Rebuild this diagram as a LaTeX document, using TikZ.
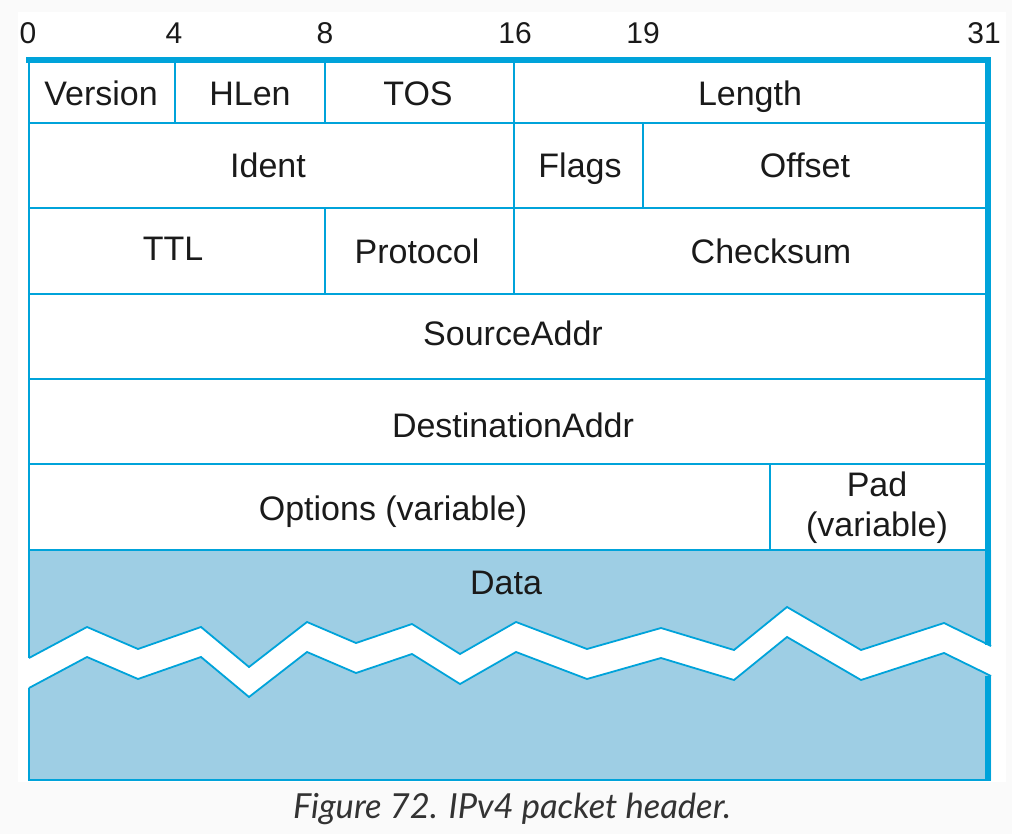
\documentclass[tikz,border=0pt]{standalone}
\usepackage{fontspec}
\setmainfont{Liberation Sans}
\newfontfamily\capfont{Lato}
\definecolor{ln}{RGB}{0,163,218}
\definecolor{datafill}{RGB}{158,206,228}
\definecolor{txt}{RGB}{26,26,26}
\definecolor{pagebg}{RGB}{250,250,250}
\definecolor{captxt}{RGB}{51,51,51}
\begin{document}
\begin{tikzpicture}[x=1pt,y=-1pt,
  grid/.style={draw=ln,line width=1.8pt},
  thick border/.style={draw=ln,line width=6pt},
  field/.style={text=txt,font=\fontsize{34}{40}\selectfont,inner sep=0pt,align=center,text height=24.5pt,text depth=0pt},
  twoline/.style={text=txt,font=\fontsize{34}{40}\selectfont,inner sep=0pt,align=center},
  bitno/.style={text=txt,font=\fontsize{30}{34}\selectfont,inner sep=0pt,text height=21.5pt,text depth=0pt},
  captionstyle/.style={text=captxt,font=\capfont\itshape\fontsize{34.5}{38}\selectfont,inner sep=0pt,text height=24pt,text depth=0pt}]
\useasboundingbox (0,0) rectangle (1012,834);
\fill[pagebg] (0,0) rectangle (1012,834);
\fill[white] (18,12) rectangle (1006,782);

% zigzag coordinates
\def\zigup{(29,658) -- (87,627) -- (138,649) -- (201,627) -- (249,667) -- (307,622) -- (356,643) -- (412,624) -- (460,654) -- (516,622) -- (587,649) -- (661,628) -- (734,650) -- (787,607) -- (861,650) -- (944,623) -- (991,646)}
\def\zigdown{(29,688) -- (87,657) -- (138,679) -- (201,657) -- (249,697) -- (307,652) -- (356,673) -- (412,654) -- (460,684) -- (516,652) -- (587,679) -- (661,658) -- (734,680) -- (787,637) -- (861,680) -- (944,653) -- (991,676)}

% data area fills
\fill[datafill] (29,550) -- \zigup -- (991,550) -- cycle;
\fill[datafill] (29,780) -- \zigdown -- (991,780) -- cycle;
\draw[grid] \zigup;
\draw[grid] \zigdown;

% outer frame
\draw[grid] (29,658) -- (29,60);
\draw[grid] (29,688) -- (29,780) -- (988,780);
\draw[thick border] (26,60.5) -- (991,60.5);
\draw[thick border] (988,58) -- (988,645);
\draw[thick border] (988,676) -- (988,781);

% horizontal rules
\foreach \yy in {123,208,294,379,464,550}
  \draw[grid] (29,\yy) -- (985,\yy);
% vertical rules
\draw[grid] (175,60) -- (175,123);
\draw[grid] (325,60) -- (325,123);
\draw[grid] (514,60) -- (514,294);
\draw[grid] (643,123) -- (643,208);
\draw[grid] (325,208) -- (325,294);
\draw[grid] (770,464) -- (770,550);

% bit numbers
\node[bitno] (b0) at (28,33) {0};
\node[bitno] (b4) at (174,33) {4};
\node[bitno] (b8) at (325,33) {8};
\node[bitno] (b16) at (515,33) {16};
\node[bitno] (b19) at (643,33) {19};
\node[bitno] (b31) at (984,33) {31};

% fields
\node[field] (version) at (101,93) {Version};
\node[field] (hlen) at (250,93) {HLen};
\node[field] (tos) at (418,93) {TOS};
\node[field] (length) at (750,93) {Length};
\node[field] (ident) at (268,165) {Ident};
\node[field] (flags) at (580,165) {Flags};
\node[field] (offset) at (805,165) {Offset};
\node[field] (ttl) at (173,248) {TTL};
\node[field] (protocol) at (417,251) {Protocol};
\node[field] (checksum) at (771,251) {Checksum};
\node[field] (src) at (513,333) {SourceAddr};
\node[field] (dst) at (513,425) {DestinationAddr};
\node[field] (options) at (393,508) {Options (variable)};
\node[twoline,anchor=north] (pad) at (877,472) {Pad\\(variable)};
\node[field] (data) at (506,582) {Data};

\node[captionstyle] (caption) at (512,806) {Figure 72. IPv4 packet header.};
\end{tikzpicture}
\end{document}
